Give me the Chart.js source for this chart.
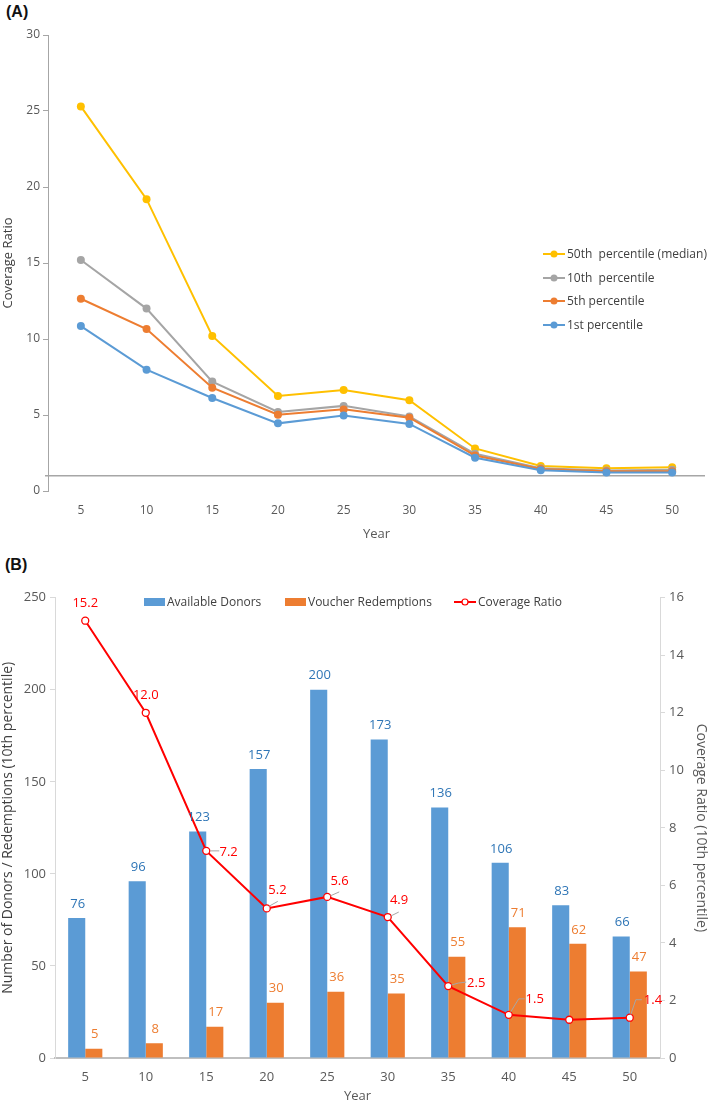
<!DOCTYPE html>
<html>
<head>
<meta charset="utf-8">
<script src="https://cdn.jsdelivr.net/npm/chart.js@4.4.0/dist/chart.umd.min.js"></script>
<style>
  html, body { margin: 0; padding: 0; background: #fff; }
  body { width: 709px; height: 1104px; position: relative; overflow: hidden; }
  .tag { position: absolute; font: bold 16px 'Liberation Sans', Arial, sans-serif; color: #111; }
  #wrapA { position: absolute; left: 0; top: 0; width: 709px; height: 545px; }
  #wrapB { position: absolute; left: 0; top: 545px; width: 709px; height: 559px; }
</style>
</head>
<body>
<div class="tag" style="left:6px;top:3px">(A)</div>
<div class="tag" style="left:5px;top:556px">(B)</div>
<div id="wrapA"><canvas id="chartA"></canvas></div>
<div id="wrapB"><canvas id="chartB"></canvas></div>
<script>
// --- DATA ---
const years = ['5', '10', '15', '20', '25', '30', '35', '40', '45', '50'];

// panel A: coverage ratio by percentile
const pct50 = [25.3, 19.2, 10.2, 6.25, 6.65, 5.97, 2.8, 1.64, 1.49, 1.56];
const pct10 = [15.2, 12.0, 7.2, 5.2, 5.6, 4.9, 2.45, 1.5, 1.35, 1.4];
const pct5 = [12.65, 10.65, 6.8, 5.02, 5.37, 4.82, 2.33, 1.45, 1.3, 1.3];
const pct1 = [10.85, 7.98, 6.12, 4.45, 4.96, 4.41, 2.19, 1.36, 1.22, 1.22];
const ticksA = [0, 5, 10, 15, 20, 25, 30];

// panel B: 10th percentile
const donors = [76, 96, 123, 157, 200, 173, 136, 106, 83, 66];
const redemptions = [5, 8, 17, 30, 36, 35, 55, 71, 62, 47];
const coverage10 = [15.2, 12.0, 7.2, 5.2, 5.6, 4.9, 2.5, 1.5, 1.33, 1.4];
const coverageLabels = ['15.2', '12.0', '7.2', '5.2', '5.6', '4.9', '2.5', '1.5', '', '1.4'];

const FONT = "'Open Sans', 'Noto Sans', sans-serif";
const TICK = '#595959';

Chart.defaults.font.family = FONT;
Chart.defaults.color = TICK;
Chart.defaults.animation = false;

// --- PLUGINS ---
// reference line where the horizontal axis crosses (ratio = 1)
const crossLine = {
    id: 'crossLine',
    beforeDatasetsDraw(chart, args, opts) {
        const { ctx, chartArea, scales } = chart;
        const y = scales.y.getPixelForValue(opts.value);
        ctx.save();
        ctx.strokeStyle = opts.color;
        ctx.lineWidth = opts.width;
        ctx.beginPath();
        ctx.moveTo(chartArea.left - 3, y);
        ctx.lineTo(chartArea.right, y);
        ctx.stroke();
        ctx.restore();
    }
};

// legend drawn inside the plot area, like the original
const floatLegend = {
    id: 'floatLegend',
    afterDraw(chart, args, opts) {
        const { ctx } = chart;
        ctx.save();
        ctx.font = opts.font;
        ctx.textBaseline = 'middle';
        ctx.textAlign = 'left';
        opts.items.forEach(item => {
            const ds = chart.data.datasets[item.ds];
            const x = item.x, y = item.y;
            if (ds.type === 'line' || chart.config.type === 'line') {
                ctx.strokeStyle = ds.borderColor;
                ctx.lineWidth = 2;
                ctx.beginPath();
                ctx.moveTo(x, y);
                ctx.lineTo(x + 22, y);
                ctx.stroke();
                ctx.beginPath();
                ctx.arc(x + 11, y, item.r || 3.5, 0, Math.PI * 2);
                ctx.fillStyle = ds.pointBackgroundColor || ds.borderColor;
                ctx.fill();
                if (ds.pointBorderColor) { ctx.lineWidth = 1.2; ctx.strokeStyle = ds.pointBorderColor; ctx.stroke(); }
                ctx.fillStyle = opts.color;
                ctx.fillText(ds.label, x + 24, y + 0.5);
            } else {
                ctx.fillStyle = ds.backgroundColor;
                ctx.fillRect(x, y - 4, 21, 8);
                ctx.fillStyle = opts.color;
                ctx.fillText(ds.label, x + 23, y + 0.5);
            }
        });
        ctx.restore();
    }
};

// value labels for panel B
const valueLabels = {
    id: 'valueLabels',
    afterDatasetsDraw(chart, args, opts) {
        const { ctx } = chart;
        ctx.save();
        ctx.font = opts.font;
        ctx.textAlign = 'center';
        ctx.textBaseline = 'middle';
        // bars
        [0, 1].forEach(i => {
            const meta = chart.getDatasetMeta(i);
            ctx.fillStyle = opts.barColors[i];
            meta.data.forEach((el, j) => {
                ctx.fillText(String(chart.data.datasets[i].data[j]), el.x + 1, el.y - 14);
            });
        });
        // coverage ratio labels with leader lines
        const lineMeta = chart.getDatasetMeta(2);
        lineMeta.data.forEach((el, j) => {
            const off = opts.lineOffsets[j];
            const txt = coverageLabels[j];
            if (!off || !txt) return;
            const lead = opts.leaders[j];
            if (lead) {
                ctx.strokeStyle = '#A6A6A6';
                ctx.lineWidth = 1;
                ctx.beginPath();
                lead.forEach((p, k) => {
                    if (k === 0) ctx.moveTo(el.x + p[0], el.y + p[1]);
                    else ctx.lineTo(el.x + p[0], el.y + p[1]);
                });
                ctx.stroke();
            }
            ctx.fillStyle = opts.lineColor;
            ctx.fillText(txt, el.x + off[0], el.y + off[1]);
        });
        ctx.restore();
    }
};

// --- CHART A ---
new Chart(document.getElementById('chartA'), {
    type: 'line',
    data: {
        labels: years,
        datasets: [
            { label: '50th  percentile (median)', data: pct50, borderColor: '#FFC000', backgroundColor: '#FFC000', order: 3 },
            { label: '10th  percentile', data: pct10, borderColor: '#A5A5A5', backgroundColor: '#A5A5A5', order: 2 },
            { label: '5th percentile', data: pct5, borderColor: '#ED7D31', backgroundColor: '#ED7D31', order: 1 },
            { label: '1st percentile', data: pct1, borderColor: '#5B9BD5', backgroundColor: '#5B9BD5', order: 0 }
        ].map(d => Object.assign(d, { borderWidth: 2, pointRadius: 4, pointBorderWidth: 0, tension: 0 }))
    },
    options: {
        responsive: true,
        maintainAspectRatio: false,
        devicePixelRatio: 1,
        layout: { padding: { top: 35, right: 3, left: 0, bottom: 0 } },
        plugins: {
            legend: { display: false },
            tooltip: { enabled: false },
            crossLine: { value: 1, color: '#A6A6A6', width: 1.5 },
            floatLegend: {
                font: '12px ' + FONT, color: '#404040',
                items: [
                    { ds: 0, x: 543, y: 254 },
                    { ds: 1, x: 543, y: 278 },
                    { ds: 2, x: 543, y: 301 },
                    { ds: 3, x: 543, y: 325 }
                ]
            }
        },
        scales: {
            x: {
                offset: true,
                grid: { display: false, drawTicks: false },
                border: { display: false },
                ticks: { padding: 12, color: TICK, font: { size: 12 } },
                title: { display: true, text: 'Year', color: TICK, font: { size: 13 }, padding: { top: 0, bottom: 3 } },
                afterFit: s => { s.height = 54; }
            },
            y: {
                min: 0, max: 30,
                afterBuildTicks: s => { s.ticks = ticksA.map(v => ({ value: v })); },
                grid: { drawOnChartArea: false, drawTicks: true, tickLength: 5, color: '#A6A6A6' },
                border: { display: true, color: '#A6A6A6', width: 1 },
                ticks: { padding: 3, color: TICK, font: { size: 12 } },
                title: { display: true, text: 'Coverage Ratio', color: '#404040', font: { size: 13 }, padding: { top: 0, bottom: 0 } },
                afterFit: s => { s.width = 48; }
            }
        }
    },
    plugins: [crossLine, floatLegend]
});

// --- CHART B ---
new Chart(document.getElementById('chartB'), {
    type: 'bar',
    data: {
        labels: years,
        datasets: [
            { label: 'Available Donors', data: donors, backgroundColor: '#5B9BD5', yAxisID: 'y', order: 1 },
            { label: 'Voucher Redemptions', data: redemptions, backgroundColor: '#ED7D31', yAxisID: 'y', order: 2 },
            {
                type: 'line', label: 'Coverage Ratio', data: coverage10, yAxisID: 'y1', order: 0,
                borderColor: '#FF0000', backgroundColor: '#FF0000', borderWidth: 2,
                pointRadius: 3.5, pointBackgroundColor: '#FFFFFF', pointBorderColor: '#FF0000', pointBorderWidth: 1.3, tension: 0
            }
        ]
    },
    options: {
        responsive: true,
        maintainAspectRatio: false,
        devicePixelRatio: 1,
        layout: { padding: { top: 52.7, right: 0, left: 0, bottom: 0 } },
        datasets: { bar: { categoryPercentage: 0.565, barPercentage: 1 } },
        plugins: {
            legend: { display: false },
            tooltip: { enabled: false },
            floatLegend: {
                font: '12px ' + FONT, color: '#404040',
                items: [
                    { ds: 0, x: 144, y: 57 },
                    { ds: 1, x: 285, y: 57 },
                    { ds: 2, x: 454, y: 57, r: 3 }
                ]
            },
            valueLabels: {
                font: '13px ' + FONT,
                barColors: ['#2E75B6', '#ED7D31'],
                lineColor: '#FF0000',
                // label centre relative to each point
                lineOffsets: [[0, -17.6], [0, -17], [22.4, 1], [10.7, -18.4], [12.3, -16],
                              [11.3, -16.3], [28, -2.3], [26, -15.7], null, [23.2, -17]],
                // leader line vertices relative to each point
                leaders: [null, null, [[4, 0], [13, 0]], [[2, -2], [11, -7]], [[3, -1], [12, -5]],
                          [[3, -1], [11, -5]], [[3, -1], [10, -3], [18, -4]], [[2, -3], [10, -16], [16, -16]],
                          null, [[1, -3], [6, -18], [12, -18]]]
            }
        },
        scales: {
            x: {
                grid: { display: false, drawTicks: false },
                border: { display: true, color: '#BFBFBF', width: 2 },
                ticks: { padding: 11, color: TICK, font: { size: 13 } },
                title: { display: true, text: 'Year', color: TICK, font: { size: 13 }, padding: { top: 0, bottom: 0 } },
                afterFit: s => { s.height = 46; }
            },
            y: {
                position: 'left',
                min: 0, max: 250,
                ticks: { stepSize: 50, padding: 4, color: TICK, font: { size: 13 } },
                grid: { drawOnChartArea: false, drawTicks: true, tickLength: 5, color: '#D9D9D9' },
                border: { display: true, color: '#D9D9D9', width: 1 },
                title: { display: true, text: 'Number of Donors / Redemptions (10th percentile)', color: '#404040', font: { size: 14 }, padding: { top: 0, bottom: 0 } },
                afterFit: s => { s.width = 55; }
            },
            y1: {
                position: 'right',
                min: 0, max: 16,
                ticks: { stepSize: 2, padding: 4, color: TICK, font: { size: 13 } },
                grid: { drawOnChartArea: false, drawTicks: true, tickLength: 5, color: '#D9D9D9' },
                border: { display: true, color: '#D9D9D9', width: 1 },
                title: { display: true, text: 'Coverage Ratio (10th percentile)', color: '#595959', font: { size: 14 }, padding: { top: 0, bottom: 0 } },
                afterFit: s => { s.width = 49; }
            }
        }
    },
    plugins: [floatLegend, valueLabels]
});
</script>
</body>
</html>
